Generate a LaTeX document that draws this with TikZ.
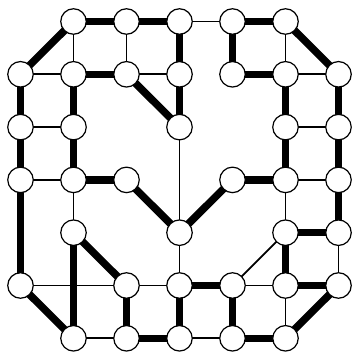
\documentclass[tikz,border=0pt]{standalone}
\usetikzlibrary{backgrounds}
\begin{document}
\begin{tikzpicture}[x=1pt,y=1pt,
 vtx/.style={circle,draw,fill=white,line width=1.2pt,minimum size=25.5pt,inner sep=0pt},
 thk/.style={line width=7.5pt},
 thn/.style={line width=1.8pt}]
\useasboundingbox (0,0) rectangle (354,354);
\foreach \i/\j in {1/0,2/0,3/0,4/0,5/0,
                   0/1,1/1,2/1,3/1,4/1,5/1,6/1,
                   0/2,1/2,3/2,5/2,6/2,
                   0/3,1/3,2/3,4/3,5/3,6/3,
                   1/4,3/4,5/4,6/4,
                   0/5,2/5,3/5,4/5,5/5,6/5,
                   1/6,2/6,3/6,4/6,5/6}
  \node[vtx] (n\i\j) at ({20.5+53*\i},{354-21.5-52.8*\j}) {};
\begin{scope}[on background layer]
\foreach \a/\b in {n10/n20,n20/n30,n10/n01,n11/n21,n21/n32,n01/n02,n11/n12,n02/n03,n12/n13,
  n30/n31,n31/n32,n40/n50,n40/n41,n50/n61,n41/n51,n51/n52,n61/n62,n52/n53,n62/n63,
  n13/n23,n23/n34,n03/n05,n14/n16,n14/n25,n05/n16,n25/n26,n26/n36,
  n34/n43,n43/n53,n63/n64,n54/n64,n54/n55,n35/n45,n55/n65,n35/n36,n45/n46,n46/n56,n65/n56}
  \draw[thk] (\a.center) -- (\b.center);
\foreach \a/\b in {n10/n11,n20/n21,n01/n11,n21/n31,n02/n12,n30/n40,n32/n34,n34/n35,n50/n51,n51/n61,n52/n62,
  n03/n13,n13/n14,n05/n25,n25/n35,n16/n26,
  n53/n63,n53/n54,n54/n45,n64/n65,n45/n55,n55/n56,n36/n46}
  \draw[thn] (\a.center) -- (\b.center);
\end{scope}
\end{tikzpicture}
\end{document}
